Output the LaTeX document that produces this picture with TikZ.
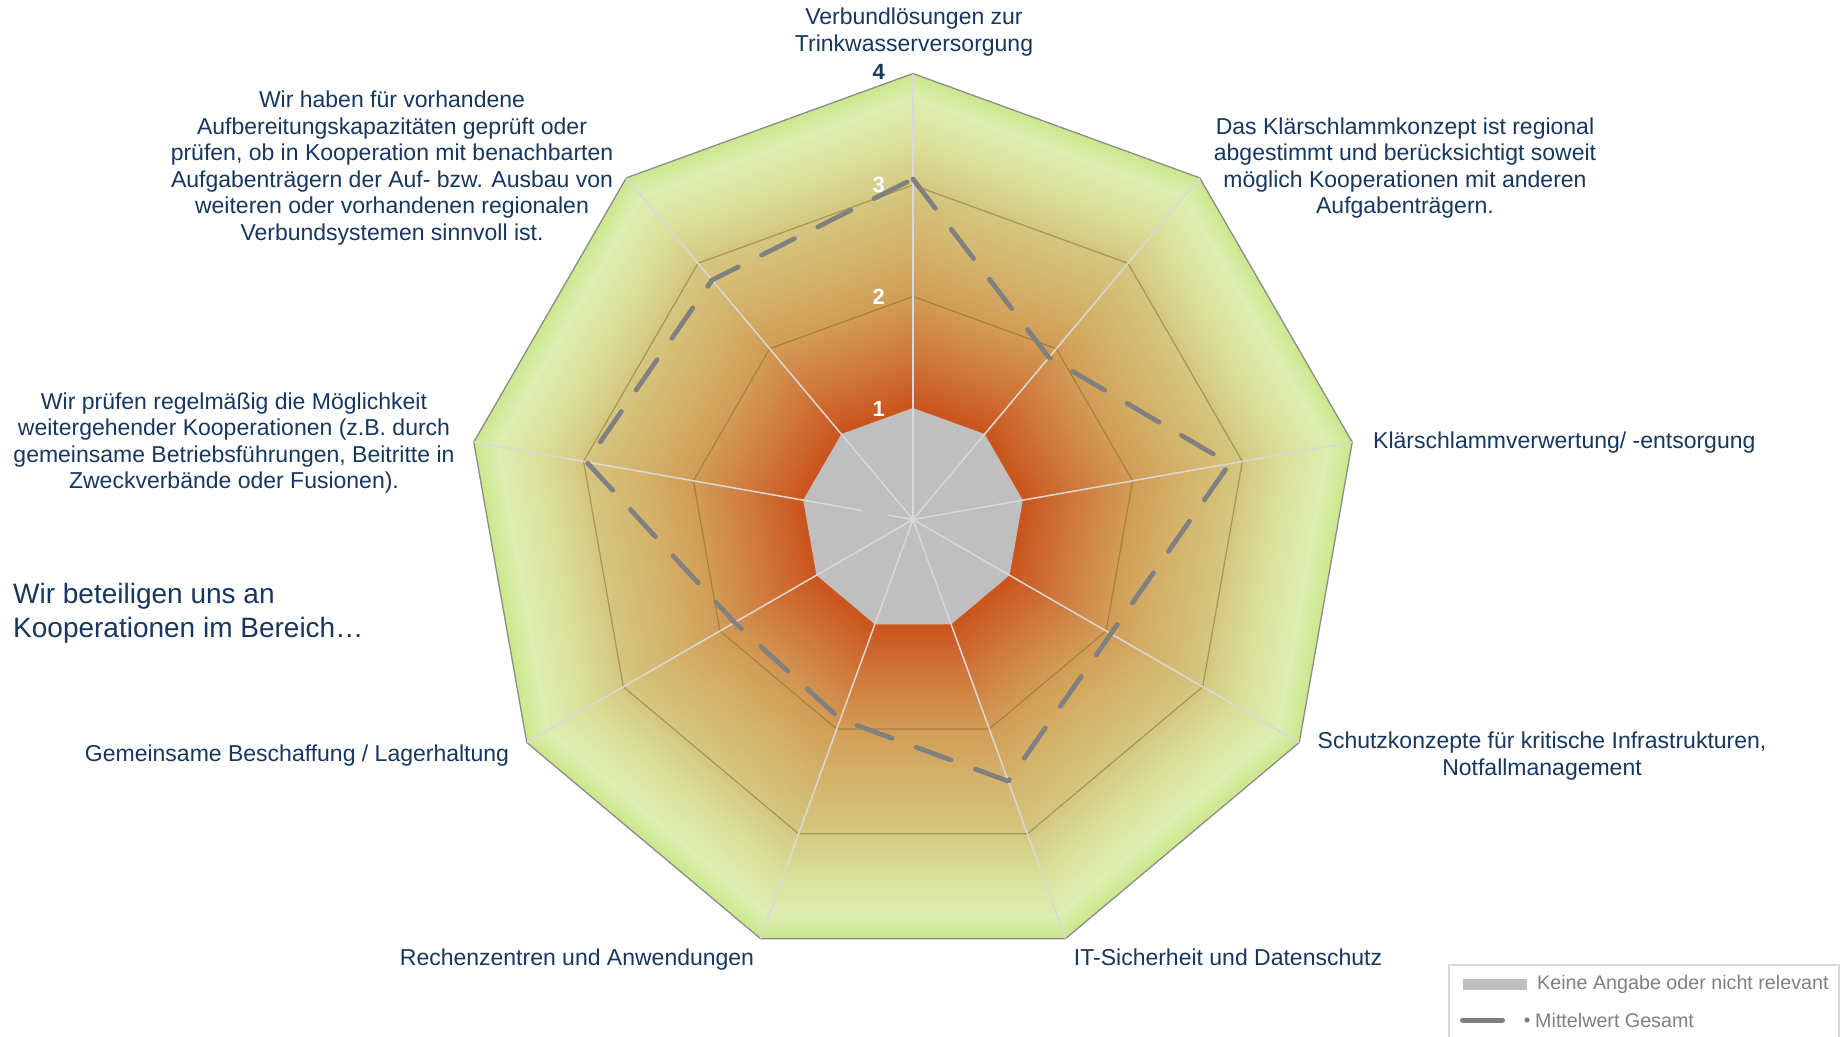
\documentclass[tikz,border=0pt]{standalone}
\usepackage{fontspec}
\setmainfont{Liberation Sans}
\definecolor{navy}{RGB}{23,55,94}
\definecolor{bgA}{RGB}{204,232,142}
\definecolor{bgB}{RGB}{222,239,178}
\definecolor{bgC}{RGB}{218,224,152}
\definecolor{bgD}{RGB}{213,198,128}
\definecolor{bgE}{RGB}{212,178,105}
\definecolor{bgF}{RGB}{210,155,85}
\definecolor{bgG}{RGB}{207,118,58}
\definecolor{bgH}{RGB}{202,82,28}
\definecolor{nodata}{RGB}{191,191,191}
\definecolor{axisc}{RGB}{217,217,217}
\definecolor{gridc}{RGB}{120,100,40}
\definecolor{edgec}{RGB}{140,140,140}
\definecolor{datac}{RGB}{128,128,128}
\definecolor{legc}{RGB}{128,128,128}
\definecolor{legbox}{RGB}{217,217,217}
\newcommand\mybands[5]{%
  \foreach \j in {0,...,\numexpr#5-1\relax}{%
    \pgfmathsetmacro\tt{#1-(#1-#2)*\j/#5}%
    \pgfmathsetmacro\pp{100*\j/#5}%
    \pgfmathsetmacro\rr{\tt*446}%
    \fill[fill=#4!\pp!#3] (90:\rr pt) \foreach \a in {50,10,-30,-70,-110,-150,-190,-230}{-- (\a:\rr pt)} -- cycle;
  }%
}
\tikzset{
  lbl/.style={text=navy, font=\fontsize{23}{26.6}\selectfont, align=center, inner sep=0pt},
  num/.style={font=\fontsize{22}{24}\selectfont\bfseries, inner sep=0pt, anchor=east},
  legtxt/.style={text=legc, font=\fontsize{19.7}{22}\selectfont, inner sep=0pt, anchor=west},
  axisline/.style={draw=axisc, line width=1.5pt},
  gridline/.style={draw=gridc, draw opacity=0.5, line width=1.2pt},
  dataline/.style={draw=datac, line width=4.7pt, line cap=round, line join=round, dash pattern=on 37pt off 26pt},
}
\begin{document}
\begin{tikzpicture}[x=1pt,y=-1pt]
\useasboundingbox (0,0) rectangle (1846,1036);
\fill[white] (0,0) rectangle (1846,1036);
\coordinate (c) at (913,519.5);
\begin{scope}[shift={(c)}]
  % background path gradient
  \mybands{1.00}{0.95}{bgA}{bgB}{8}
  \mybands{0.95}{0.85}{bgB}{bgC}{10}
  \mybands{0.85}{0.75}{bgC}{bgD}{10}
  \mybands{0.75}{0.62}{bgD}{bgE}{12}
  \mybands{0.62}{0.50}{bgE}{bgF}{12}
  \mybands{0.50}{0.37}{bgF}{bgG}{12}
  \mybands{0.37}{0.25}{bgG}{bgH}{12}
  % grid polygons
  \foreach \rr in {223,334.5}{
    \draw[gridline] (90:\rr pt) \foreach \a in {50,10,-30,-70,-110,-150,-190,-230}{-- (\a:\rr pt)} -- cycle;
  }
  \draw[draw=edgec, line width=1.3pt] (90:446pt) \foreach \a in {50,10,-30,-70,-110,-150,-190,-230}{-- (\a:446pt)} -- cycle;
  % no-data polygon (level 1)
  \fill[nodata] (90:111.5pt) \foreach \a in {50,10,-30,-70,-110,-150,-190,-230}{-- (\a:111.5pt)} -- cycle;
  % axes
  \foreach \a in {90,50,10,-30,-70,-110,-150,130}{
    \draw[axisline] (0,0) -- (\a:446pt);
  }
  \draw[axisline] (0,0) -- (170:25pt);
  \draw[axisline] (170:52pt) -- (170:446pt);
  % data
  \coordinate (d0) at (90:340.5pt);
  \coordinate (d1) at (50:211.5pt);
  \coordinate (d2) at (10:321.5pt);
  \coordinate (d3) at (-30:228.5pt);
  \coordinate (d4) at (-70:278.5pt);
  \coordinate (d5) at (-110:212.5pt);
  \coordinate (d6) at (-150:206pt);
  \coordinate (d7) at (170:331.5pt);
  \coordinate (d8) at (130:312.6pt);
  \draw[dataline] (d0) -- (d1) -- (d2) -- (d3) -- (d4) -- (d5) -- (d6) -- (d7) -- (d8) -- cycle;
\end{scope}
% scale numbers
\node[num, text=navy] (n4) at (885,72) {4};
\node[num, text=white] (n3) at (885,185) {3};
\node[num, text=white] (n2) at (885,297) {2};
\node[num, text=white] (n1) at (885,409) {1};
% category labels
\node[lbl] (l0) at (914,32) {Verbundlösungen zur\\Trinkwasserversorgung};
\node[lbl] (l1) at (1405,168) {Das Klärschlammkonzept ist regional\\abgestimmt und berücksichtigt soweit\\möglich Kooperationen mit anderen\\Aufgabenträgern.};
\node[lbl, anchor=west] (l2) at (1373,443) {Klärschlammverwertung/ -entsorgung};
\node[lbl] (l3) at (1542,756) {Schutzkonzepte für kritische Infrastrukturen,\\Notfallmanagement};
\node[lbl] (l4) at (1228,957.5) {IT-Sicherheit und Datenschutz};
\node[lbl] (l5) at (577,959.5) {Rechenzentren und Anwendungen};
\node[lbl] (l6) at (297,756) {Gemeinsame Beschaffung / Lagerhaltung};
\node[lbl] (l7) at (234,443) {Wir prüfen regelmäßig die Möglichkeit\\weitergehender Kooperationen (z.B. durch\\gemeinsame Betriebsführungen, Beitritte in\\Zweckverbände oder Fusionen).};
\node[lbl] (l8) at (392,168) {Wir haben für vorhandene\\Aufbereitungskapazitäten geprüft oder\\prüfen, ob in Kooperation mit benachbarten\\Aufgabenträgern der Auf- bzw. Ausbau von\\weiteren oder vorhandenen regionalen\\Verbundsystemen sinnvoll ist.};
\node[text=navy, font=\fontsize{28}{34}\selectfont, align=left, inner sep=0pt, anchor=west] (title) at (13,613) {Wir beteiligen uns an\\Kooperationen im Bereich…};
% legend
\draw[draw=legbox, line width=1.3pt] (1449,965) rectangle (1839,1050);
\fill[nodata] (1463,979) rectangle (1527,990);
\node[legtxt] (k1) at (1537,984) {Keine Angabe oder nicht relevant};
\draw[draw=datac, line width=5pt, line cap=round] (1462.5,1020) -- (1502.5,1020);
\fill[datac] (1527,1020) circle (2.6);
\node[legtxt] (k2) at (1535,1020) {Mittelwert Gesamt};
\end{tikzpicture}
\end{document}
